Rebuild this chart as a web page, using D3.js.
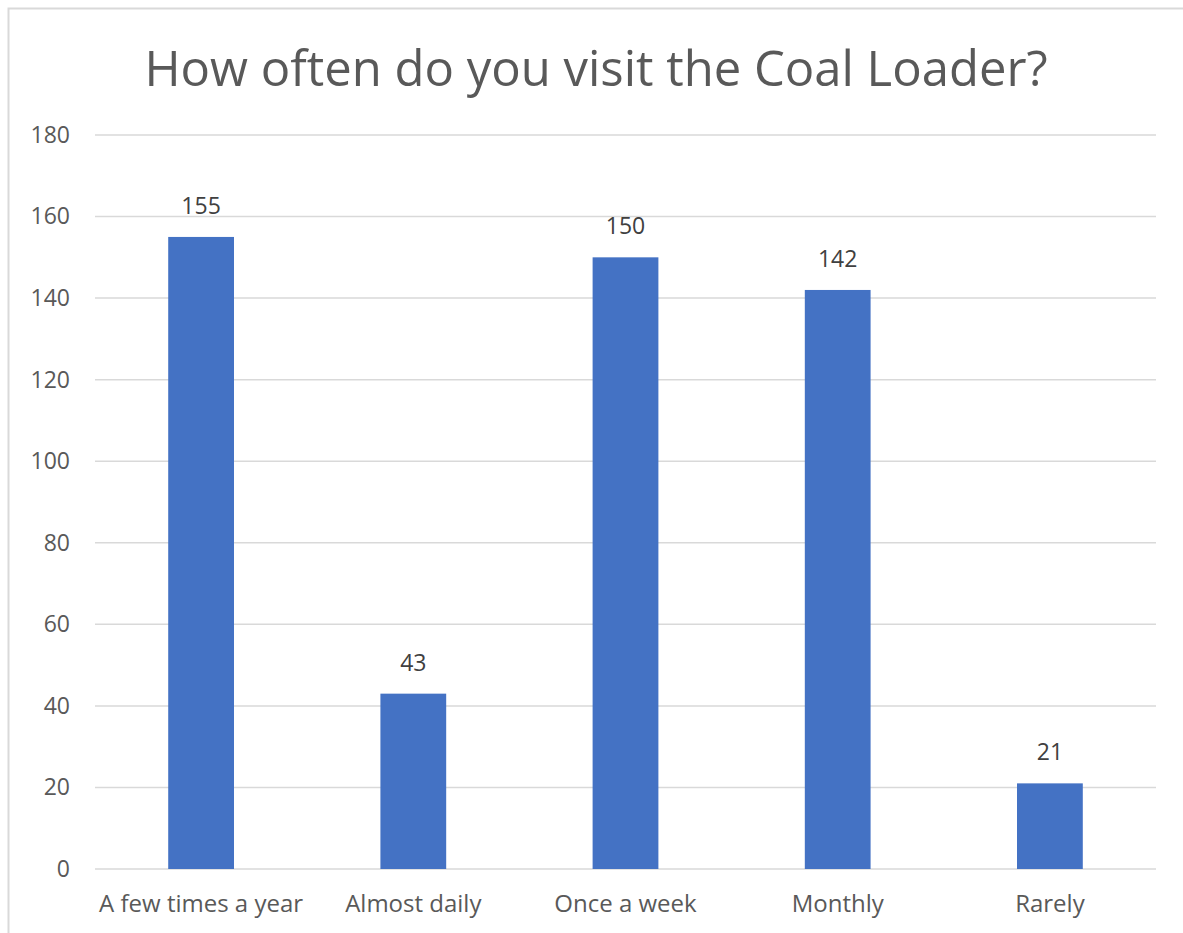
<!DOCTYPE html>
<html>
<head>
<meta charset="utf-8">
<script src="https://cdn.jsdelivr.net/npm/d3@7"></script>
<style>
  body { margin: 0; background: #fff; }
  svg { display: block; font-family: "Open Sans", sans-serif; }
</style>
</head>
<body>
<div id="chart"></div>
<script>
var categories = ["A few times a year", "Almost daily", "Once a week", "Monthly", "Rarely"]
var values = [155, 43, 150, 142, 21]
var yTicks = [0, 20, 40, 60, 80, 100, 120, 140, 160, 180]
var title = "How often do you visit the Coal Loader?"

var width = 1183, height = 933
var margin = {top: 135, right: 27, bottom: 64, left: 95}

var svg = d3.select("#chart").append("svg")
    .attr("width", width)
    .attr("height", height)

// chart frame (top + left edges visible in the reference)
svg.append("path")
    .attr("d", "M8.5,933V8.5H1183")
    .attr("fill", "none")
    .attr("stroke", "#d9d9d9")
    .attr("stroke-width", 2)

var x = d3.scaleBand()
    .domain(categories)
    .range([margin.left, width - margin.right])
    .paddingInner(0.69)
    .paddingOuter(0.345)

var y = d3.scaleLinear()
    .domain([0, 180])
    .range([height - margin.bottom, margin.top])

// gridlines
svg.append("g")
    .selectAll("line")
    .data(yTicks)
    .enter()
    .append("line")
    .attr("x1", margin.left)
    .attr("x2", width - margin.right)
    .attr("y1", d => y(d))
    .attr("y2", d => y(d))
    .attr("stroke", "#d9d9d9")
    .attr("stroke-width", 1.5)

// y axis labels
var yAxis = svg.append("g")
    .attr("transform", "translate(" + (margin.left - 25) + ",0)")
    .call(d3.axisLeft(y).tickValues(yTicks).tickSize(0).tickPadding(0))
yAxis.select(".domain").remove()
yAxis.selectAll("text")
    .attr("font-size", 23)
    .attr("font-family", "Open Sans, sans-serif")
    .attr("fill", "#595959")

// x axis labels
var xAxis = svg.append("g")
    .attr("transform", "translate(0," + y(0) + ")")
    .call(d3.axisBottom(x).tickSize(0).tickPadding(26))
xAxis.select(".domain").remove()
xAxis.selectAll("text")
    .attr("font-size", 24)
    .attr("font-family", "Open Sans, sans-serif")
    .attr("fill", "#595959")

// bars
svg.append("g")
    .selectAll("rect")
    .data(values)
    .enter()
    .append("rect")
    .attr("x", (d, i) => x(categories[i]))
    .attr("width", x.bandwidth())
    .attr("y", d => y(d))
    .attr("height", d => y(0) - y(d))
    .attr("fill", "#4472c4")

// value labels
svg.append("g")
    .selectAll("text")
    .data(values)
    .enter()
    .append("text")
    .attr("x", (d, i) => x(categories[i]) + x.bandwidth() / 2)
    .attr("y", d => y(d) - 23)
    .attr("text-anchor", "middle")
    .attr("font-size", 23)
    .attr("fill", "#404040")
    .text(d => d)

// title
svg.append("text")
    .attr("x", 596)
    .attr("y", 86)
    .attr("text-anchor", "middle")
    .attr("font-size", 49)
    .attr("fill", "#595959")
    .text(title)
</script>
</body>
</html>
